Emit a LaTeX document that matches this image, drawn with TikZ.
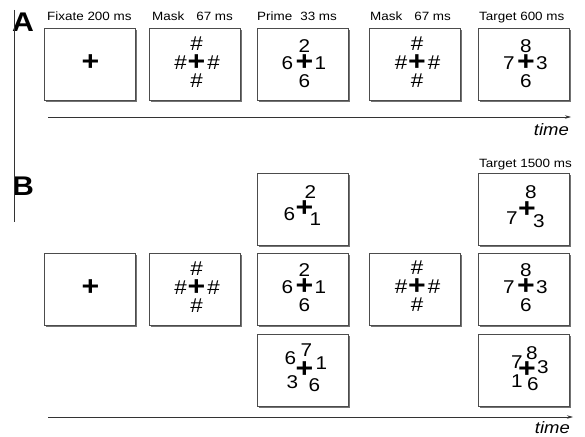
\documentclass[tikz,border=0pt]{standalone}
\usepackage{fontspec}
\setmainfont[FakeStretch=1.12]{Liberation Sans}
\usetikzlibrary{shadows,arrows.meta}
\tikzset{
  screen/.style={draw=black!70, line width=0.8pt, fill=white, minimum width=91pt, minimum height=72pt, inner sep=0pt,
    drop shadow={shadow xshift=1.8pt, shadow yshift=-1.8pt, fill=black!55, opacity=1}},
  dig/.style={font=\fontsize{18.5}{18}\selectfont, inner sep=0pt},
  hsh/.style={font=\fontsize{20}{20}\selectfont, inner sep=0pt},
  crs/.style={font=\fontsize{27}{27}\selectfont\bfseries, inner sep=0pt},
  lbl/.style={font=\fontsize{12}{14}\selectfont, anchor=base west, inner sep=0pt},
  panel/.style={font=\fontsize{27}{27}\selectfont\bfseries, anchor=base west, inner sep=0pt},
  tlabel/.style={font=\fontsize{16.5}{18}\selectfont\itshape, anchor=base east, inner sep=0pt},
  tline/.style={-{Stealth[length=6pt,width=3.5pt]}, line width=0.7pt, draw=black!80},
}
\begin{document}
\begin{tikzpicture}[x=1pt,y=-1pt]
\useasboundingbox (0,0) rectangle (585,436);
% panel letters and vertical rule
\node[panel] (pA) at (12,32) {A};
\node[panel] (pB) at (12,195) {B};
\coordinate (v0) at (14,10);
\coordinate (v1) at (14,222);
\draw[line width=1pt, black!80] (v0) -- (v1);
% ---------------- Panel A ----------------
\node[lbl] (l1) at (47,21) {Fixate 200 ms};
\node[lbl] (l2) at (152,21) {Mask\hspace{12pt}67 ms};
\node[lbl] (l3) at (257,21) {Prime\hspace{8pt}33 ms};
\node[lbl] (l4) at (370,21) {Mask\hspace{12pt}67 ms};
\node[lbl] (l5) at (479,21) {Target 600 ms};
\node[screen] (a1) at (89.5,64) {};
\node[screen] (a2) at (194.5,64) {};
\node[screen] (a3) at (302.5,64) {};
\node[screen] (a4) at (415,64) {};
\node[screen] (a5) at (524,64) {};
% fixate
\node[crs] (a1c) at ([shift={(1,-1)}]a1.center) {+};
% mask
\node[crs] (a2c) at ([shift={(2,-1)}]a2.center) {+};
\node[hsh] (a2u) at ([shift={(0,-19)}]a2c.center) {\#};
\node[hsh] (a2l) at ([shift={(-16,0)}]a2c.center) {\#};
\node[hsh] (a2r) at ([shift={(17,0)}]a2c.center) {\#};
\node[hsh] (a2d) at ([shift={(0,18)}]a2c.center) {\#};
% prime
\node[crs] (a3c) at ([shift={(2,-1)}]a3.center) {+};
\node[dig] (a3u) at ([shift={(0,-17)}]a3c.center) {2};
\node[dig] (a3l) at ([shift={(-17,0)}]a3c.center) {6};
\node[dig] (a3r) at ([shift={(16,0)}]a3c.center) {1};
\node[dig] (a3d) at ([shift={(0,18)}]a3c.center) {6};
% mask
\node[crs] (a4c) at ([shift={(2,-1)}]a4.center) {+};
\node[hsh] (a4u) at ([shift={(0,-19)}]a4c.center) {\#};
\node[hsh] (a4l) at ([shift={(-16,0)}]a4c.center) {\#};
\node[hsh] (a4r) at ([shift={(17,0)}]a4c.center) {\#};
\node[hsh] (a4d) at ([shift={(0,18)}]a4c.center) {\#};
% target
\node[crs] (a5c) at ([shift={(2,-1)}]a5.center) {+};
\node[dig] (a5u) at ([shift={(0,-17)}]a5c.center) {8};
\node[dig] (a5l) at ([shift={(-17,0)}]a5c.center) {7};
\node[dig] (a5r) at ([shift={(16,0)}]a5c.center) {3};
\node[dig] (a5d) at ([shift={(0,18)}]a5c.center) {6};
% time axis A
\coordinate (tA0) at (48,117);
\coordinate (tA1) at (571,117);
\draw[tline] (tA0) -- (tA1);
\node[tlabel] (timeA) at (569,135) {time};
% ---------------- Panel B ----------------
\node[lbl] (l6) at (479,167) {Target 1500 ms};
\node[screen] (b1) at (89.5,289) {};
\node[screen] (b2) at (194.5,289) {};
\node[screen] (b3t) at (302.5,209) {};
\node[screen] (b3m) at (302.5,289) {};
\node[screen] (b3b) at (302.5,370) {};
\node[screen] (b4) at (415,289) {};
\node[screen] (b5t) at (524,209) {};
\node[screen] (b5m) at (524,289) {};
\node[screen] (b5b) at (524,370) {};
% fixate
\node[crs] (b1c) at ([shift={(1,-1)}]b1.center) {+};
% mask
\node[crs] (b2c) at ([shift={(2,-1)}]b2.center) {+};
\node[hsh] (b2u) at ([shift={(0,-19)}]b2c.center) {\#};
\node[hsh] (b2l) at ([shift={(-16,0)}]b2c.center) {\#};
\node[hsh] (b2r) at ([shift={(17,0)}]b2c.center) {\#};
\node[hsh] (b2d) at ([shift={(0,18)}]b2c.center) {\#};
% prime top
\node[crs] (b3tc) at ([shift={(2,0)}]b3t.center) {+};
\node[dig] (b3t1) at ([shift={(6,-17)}]b3tc.center) {2};
\node[dig] (b3t2) at ([shift={(-15,5)}]b3tc.center) {6};
\node[dig] (b3t3) at ([shift={(11,10)}]b3tc.center) {1};
% prime middle
\node[crs] (b3mc) at ([shift={(2,-2)}]b3m.center) {+};
\node[dig] (b3mu) at ([shift={(0,-17)}]b3mc.center) {2};
\node[dig] (b3ml) at ([shift={(-17,0)}]b3mc.center) {6};
\node[dig] (b3mr) at ([shift={(16,0)}]b3mc.center) {1};
\node[dig] (b3md) at ([shift={(0,18)}]b3mc.center) {6};
% prime bottom
\node[crs] (b3bc) at ([shift={(2,0)}]b3b.center) {+};
\node[dig] (b3b1) at ([shift={(-14,-12)}]b3bc.center) {6};
\node[dig] (b3b2) at ([shift={(2,-20)}]b3bc.center) {7};
\node[dig] (b3b3) at ([shift={(17,-7)}]b3bc.center) {1};
\node[dig] (b3b4) at ([shift={(-12,12)}]b3bc.center) {3};
\node[dig] (b3b5) at ([shift={(10,15)}]b3bc.center) {6};
% mask B
\node[crs] (b4c) at ([shift={(2,-2)}]b4.center) {+};
\node[hsh] (b4u) at ([shift={(0,-19)}]b4c.center) {\#};
\node[hsh] (b4l) at ([shift={(-16,0)}]b4c.center) {\#};
\node[hsh] (b4r) at ([shift={(17,0)}]b4c.center) {\#};
\node[hsh] (b4d) at ([shift={(0,18)}]b4c.center) {\#};
% target top
\node[crs] (b5tc) at ([shift={(3,1)}]b5t.center) {+};
\node[dig] (b5t1) at ([shift={(4,-18)}]b5tc.center) {8};
\node[dig] (b5t2) at ([shift={(-15,8)}]b5tc.center) {7};
\node[dig] (b5t3) at ([shift={(12,11)}]b5tc.center) {3};
% target middle
\node[crs] (b5mc) at ([shift={(2,-2)}]b5m.center) {+};
\node[dig] (b5mu) at ([shift={(0,-17)}]b5mc.center) {8};
\node[dig] (b5ml) at ([shift={(-17,0)}]b5mc.center) {7};
\node[dig] (b5mr) at ([shift={(16,0)}]b5mc.center) {3};
\node[dig] (b5md) at ([shift={(0,18)}]b5mc.center) {6};
% target bottom
\node[crs] (b5bc) at ([shift={(3,0)}]b5b.center) {+};
\node[dig] (b5b1) at ([shift={(5,-17)}]b5bc.center) {8};
\node[dig] (b5b2) at ([shift={(-10,-8)}]b5bc.center) {7};
\node[dig] (b5b3) at ([shift={(16,-3)}]b5bc.center) {3};
\node[dig] (b5b4) at ([shift={(-10,11)}]b5bc.center) {1};
\node[dig] (b5b5) at ([shift={(6,14)}]b5bc.center) {6};
% time axis B
\coordinate (tB0) at (48,417);
\coordinate (tB1) at (573,417);
\draw[tline] (tB0) -- (tB1);
\node[tlabel] (timeB) at (570,433) {time};
\end{tikzpicture}
\end{document}
